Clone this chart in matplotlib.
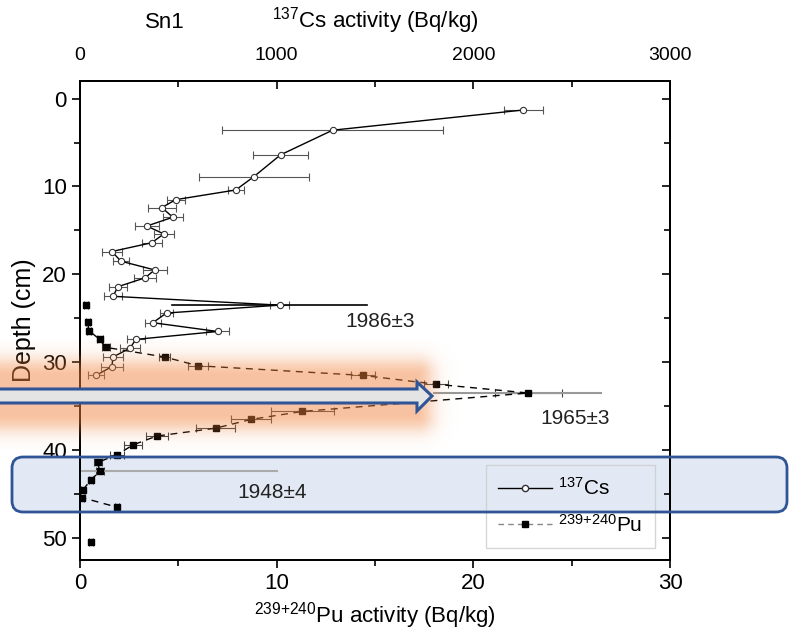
import numpy as np
import matplotlib
matplotlib.use("Agg")
from matplotlib import pyplot as plt
from matplotlib.lines import Line2D
from matplotlib.patches import Polygon, FancyBboxPatch
from matplotlib.ticker import MultipleLocator

plt.rcParams['font.family'] = ['Liberation Sans', 'DejaVu Sans']
plt.rcParams['mathtext.fontset'] = 'custom'
plt.rcParams['mathtext.rm'] = 'Liberation Sans'
plt.rcParams['mathtext.it'] = 'Liberation Sans'

# 137Cs profile (depth cm, activity Bq/kg, error)
cs_depth = [1.3, 3.6, 6.4, 8.9, 10.4, 11.5, 12.4, 13.5, 14.5, 15.4, 16.4, 17.4, 18.5,
            19.5, 20.4, 21.4, 22.5, 23.5, 24.4, 25.5, 26.5, 27.4, 28.4, 29.4, 30.5, 31.5]
cs_act = [2254, 1284, 1020, 883, 792, 487, 416, 472, 340, 426, 365, 162, 208,
          380, 330, 193, 168, 1015, 440, 370, 700, 284, 254, 168, 162, 81]
cs_err = [100, 560, 140, 280, 40, 47, 70, 50, 60, 50, 50, 50, 40,
          60, 55, 45, 45, 50, 35, 40, 60, 45, 50, 50, 55, 40]

# 239+240Pu profile
pu_depth = [23.5, 25.4, 26.4, 27.4, 28.3, 29.4, 30.4, 31.5, 32.5, 33.5, 35.6, 36.5,
            37.5, 38.4, 39.4, 40.5, 41.4, 42.4, 43.4, 44.5, 45.4, 46.5, 50.5]
pu_act = [0.3, 0.4, 0.45, 1.0, 1.3, 4.3, 6.0, 14.4, 18.1, 22.8, 11.3, 8.7,
          6.9, 3.9, 2.7, 1.9, 0.9, 1.0, 0.56, 0.15, 0.1, 1.9, 0.56]
pu_err = [0.1, 0.1, 0.1, 0.15, 0.2, 0.3, 0.5, 0.6, 0.6, 1.7, 1.6, 1.0,
          1.0, 0.55, 0.45, 0.35, 0.2, 0.2, 0.1, 0.1, 0.1, 0.1, 0.1]
pu_line = slice(1, 22)  # points joined by the dashed line

# dating markers
dates = ['1986±3', '1965±3', '1948±4']
date_depth = [23.5, 33.5, 42.4]
date_x0 = [470, 18, 0]
date_x1 = [1460, 26.5, 10]
date_text_x = [13.5, 23.4, 8.0]
date_text_y = [25.4, 36.4, 44.8]

W, H = 789, 637
fig = plt.figure(figsize=(W / 100, H / 100), dpi=100)

# background layer (blue band fill sits under the data)
bg = fig.add_axes([0, 0, 1, 1], zorder=-1)
bg.set_xlim(0, W)
bg.set_ylim(H, 0)
bg.axis('off')
bg.add_patch(FancyBboxPatch((12, 457), 775, 55, boxstyle='round,pad=0,rounding_size=11',
                            facecolor='#e3e9f4', edgecolor='none'))

ax = fig.add_axes([80 / W, 1 - 560 / H, 590 / W, 479 / H])
ax.set_facecolor('none')
ax2 = ax.twiny()

# Pu on bottom axis
ax.errorbar(pu_act, pu_depth, xerr=pu_err, fmt='none', ecolor='#444444',
            elinewidth=0.8, capsize=3, capthick=0.8, zorder=2)
ax.plot(pu_act[pu_line], pu_depth[pu_line], ls=(0, (5, 4)), color='black', lw=1, zorder=3)
ax.plot(pu_act, pu_depth, ls='none', marker='s', ms=5, color='black', zorder=4)

# Cs on top axis
ax2.errorbar(cs_act, cs_depth, xerr=cs_err, fmt='none', ecolor='#555555',
             elinewidth=0.8, capsize=3, capthick=0.8, zorder=2)
ax2.plot(cs_act, cs_depth, '-o', color='black', lw=1, ms=4.5,
         mfc='white', mec='#333333', mew=0.8, zorder=3)

# date lines and labels
ax2.plot([date_x0[0], date_x1[0]], [date_depth[0]] * 2, color='black', lw=1.2)
ax.plot([date_x0[1], date_x1[1]], [date_depth[1]] * 2, color='#999999', lw=1.5)
ax.plot([date_x0[2], date_x1[2]], [date_depth[2]] * 2, color='#aaaaaa', lw=1.5)
for lab, tx, ty in zip(dates, date_text_x, date_text_y):
    ax.text(tx, ty, lab, fontsize=15, ha='left', va='center', color='#222222')

ax.set_xlim(0, 30)
ax2.set_xlim(0, 3000)
ax.set_ylim(52.5, -2)
ax.xaxis.set_major_locator(MultipleLocator(10))
ax.xaxis.set_minor_locator(MultipleLocator(5))
ax.yaxis.set_major_locator(MultipleLocator(10))
ax.yaxis.set_minor_locator(MultipleLocator(5))
ax2.xaxis.set_major_locator(MultipleLocator(1000))
ax2.xaxis.set_minor_locator(MultipleLocator(500))
ax.tick_params(axis='both', which='major', direction='out', length=6, width=1.2, labelsize=16)
ax.tick_params(axis='both', which='minor', direction='out', length=4, width=1.2)
ax2.tick_params(axis='x', which='major', direction='in', length=6, width=1.2, labelsize=14, pad=12)
ax2.tick_params(axis='x', which='minor', direction='in', length=4, width=1.2)
for a in (ax, ax2):
    for s in a.spines.values():
        s.set_linewidth(1.3)

# right side: inward ticks, no labels
sec = ax.secondary_yaxis('right')
sec.yaxis.set_major_locator(MultipleLocator(10))
sec.yaxis.set_minor_locator(MultipleLocator(5))
sec.tick_params(which='major', direction='in', length=6, width=1.2, labelright=False)
sec.tick_params(which='minor', direction='in', length=4, width=1.2)
sec.spines['right'].set_linewidth(1.3)

ax.set_ylabel('Depth (cm)', fontsize=18, labelpad=4)
ax.set_xlabel(r'$^{239{+}240}$Pu activity (Bq/kg)', fontsize=16, labelpad=4)
ax2.set_xlabel(r'$^{137}$Cs activity (Bq/kg)', fontsize=16, labelpad=14)
fig.text(165 / W, 1 - 22 / H, 'Sn1', fontsize=16, ha='center', va='center')

handles = [Line2D([], [], color='black', lw=1, marker='o', ms=4.5, mfc='white', mec='#333333'),
           Line2D([], [], color='#888888', lw=1, ls=(0, (4, 3)), marker='s', ms=5,
                  mfc='black', mec='black')]
leg = ax.legend(handles, [r'$^{137}$Cs', r'$^{239{+}240}$Pu'], loc='lower right',
                bbox_to_anchor=(0.975, 0.025), borderaxespad=0, fontsize=15,
                handlelength=2.6, handletextpad=0.3, fancybox=False, edgecolor='#cccccc',
                borderpad=0.6, labelspacing=0.7)
leg.get_frame().set_facecolor('none')

# overlay in pixel coordinates for the orange glow, arrow and band outline
ov = fig.add_axes([0, 0, 1, 1], zorder=10)
ov.set_xlim(0, W)
ov.set_ylim(H, 0)
ov.axis('off')

gx = np.arange(0, 480)
gy = np.arange(340, 450)
XX, YY = np.meshgrid(gx + 0.5, gy + 0.5)
dx = np.maximum(XX - 418, 0)
dy = np.maximum(np.maximum(374 - YY, YY - 416), 0)
d = np.hypot(dx, dy)
alpha = 0.55 / (1 + np.exp((d - 12) / 6))
glow = np.zeros((len(gy), len(gx), 4))
glow[..., 0] = 240 / 255
glow[..., 1] = 130 / 255
glow[..., 2] = 60 / 255
glow[..., 3] = alpha
ov.imshow(glow, extent=(0, 480, 450, 340), origin='upper', interpolation='bilinear', aspect='auto')

arrow = Polygon([(-5, 389), (417, 389), (417, 382), (432, 396), (417, 411), (417, 403), (-5, 403)],
                closed=True, facecolor='#e4e4e4', edgecolor='#2f5597', lw=2.2, joinstyle='miter')
ov.add_patch(arrow)

ov.add_patch(FancyBboxPatch((12, 457), 775, 55, boxstyle='round,pad=0,rounding_size=11',
                            facecolor='none', edgecolor='#2f5597', lw=2))
ov.set_xlim(0, W)
ov.set_ylim(H, 0)

fig.savefig('out.png', dpi=100)
